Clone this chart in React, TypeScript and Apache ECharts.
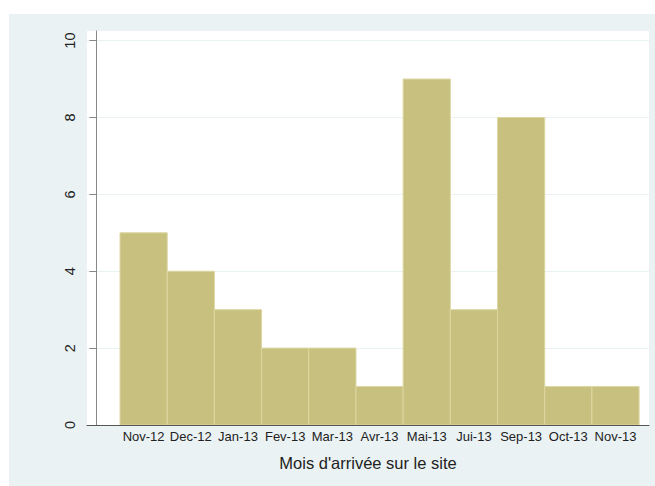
import React, { useEffect, useRef } from "react";
import * as echarts from "echarts";

const months = ["Nov-12", "Dec-12", "Jan-13", "Fev-13", "Mar-13", "Avr-13", "Mai-13", "Jui-13", "Sep-13", "Oct-13", "Nov-13"];
const counts = [5, 4, 3, 2, 2, 1, 9, 3, 8, 1, 1];
const yTicks = [0, 2, 4, 6, 8, 10];
const xTitle = "Mois d'arrivée sur le site";

export default function App() {
  const ref = useRef<HTMLDivElement>(null);
  useEffect(() => {
    const chart = echarts.init(ref.current!, null, { renderer: "svg" });
    const positions = months.map((_, i) => i + 1);
    const data = counts.map((c, i) => [i + 1, c]);
    chart.setOption({
      animation: false,
      backgroundColor: "#ffffff",
      textStyle: { fontFamily: "Liberation Sans, Arial, sans-serif" },
      graphic: [
        {
          type: "rect",
          z: -100,
          silent: true,
          shape: { x: 9, y: 14, width: 660, height: 480 },
          style: { fill: "#EAF2F3" },
        },
      ],
      grid: {
        left: 87,
        right: 6,
        top: 31,
        bottom: 61,
        show: true,
        backgroundColor: "#ffffff",
        borderWidth: 0,
        containLabel: false,
      },
      xAxis: {
        type: "value",
        min: -0.2,
        max: 11.71,
        z: 5,
        axisLine: { show: true, onZero: false, lineStyle: { color: "#555555", width: 1 } },
        axisTick: { show: false },
        splitLine: { show: false },
        axisLabel: {
          customValues: positions,
          formatter: (v: number) => months[Math.round(v) - 1] ?? "",
          fontSize: 13,
          color: "#222222",
          margin: 5,
          fontFamily: "Liberation Sans, Arial, sans-serif",
        },
        name: xTitle,
        nameLocation: "middle",
        nameGap: 29,
        nameTextStyle: { fontSize: 16.5, color: "#222222", fontFamily: "Liberation Sans, Arial, sans-serif" },
      },
      yAxis: {
        type: "value",
        min: 0,
        max: 10.25,
        z: 0,
        axisLine: { show: true, lineStyle: { color: "#888888", width: 1 } },
        axisTick: { show: true, length: 7, customValues: yTicks, lineStyle: { color: "#888888" } },
        splitLine: { show: true, lineStyle: { color: "#EAF2F3", width: 1.2 } },
        axisLabel: {
          customValues: yTicks,
          rotate: 90,
          fontSize: 14.5,
          color: "#222222",
          margin: 10,
          fontFamily: "Liberation Sans, Arial, sans-serif",
        },
      },
      series: [
        {
          type: "custom",
          z: 2,
          data: data,
          encode: { x: 0, y: 1 },
          renderItem: (params: any, api: any) => {
            const x = api.value(0);
            const y = api.value(1);
            const p0 = api.coord([x - 0.5, y]);
            const p1 = api.coord([x + 0.5, 0]);
            return {
              type: "rect",
              shape: { x: p0[0], y: p0[1], width: p1[0] - p0[0], height: p1[1] - p0[1] },
              style: { fill: "#C8C07E", stroke: "#DCD6A2", lineWidth: 1 },
            };
          },
        },
      ],
    });
    return () => chart.dispose();
  }, []);
  return <div ref={ref} style={{ position: "absolute", left: 0, top: 0, width: 655, height: 486 }} />;
}
